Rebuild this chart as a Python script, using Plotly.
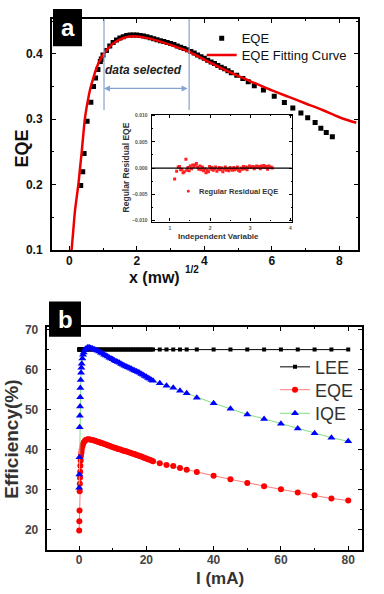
import plotly.graph_objects as go

# ---------------- Panel (a) data ----------------
eqe_x = [0.34, 0.40, 0.44, 0.53, 0.64, 0.72, 0.78, 0.85, 0.92,
         0.95, 1.0, 1.1, 1.2, 1.3, 1.4, 1.5, 1.6, 1.7, 1.8, 1.9, 2.0, 2.1, 2.2, 2.3, 2.4,
         2.5, 2.6, 2.7, 2.8, 2.9, 3.0, 3.1, 3.2, 3.3, 3.4, 3.5, 3.6, 3.7, 3.8, 3.9, 4.0,
         4.1, 4.2, 4.3, 4.4, 4.5, 4.6, 4.7, 4.8,
         4.96, 5.14, 5.30, 5.48, 5.75, 6.07, 6.37, 6.62, 6.86, 7.06, 7.28, 7.45, 7.61, 7.79]
eqe_y = [0.1985, 0.2195, 0.2476, 0.297, 0.326, 0.350, 0.363, 0.376, 0.388,
         0.392, 0.398, 0.405, 0.412, 0.417, 0.421, 0.424, 0.426, 0.428, 0.4285, 0.4285, 0.4285,
         0.428, 0.427, 0.426, 0.4245, 0.423, 0.4215, 0.420, 0.4185, 0.417, 0.4155, 0.414,
         0.412, 0.410, 0.408, 0.406, 0.4035, 0.401, 0.398, 0.3955, 0.393, 0.390, 0.3875,
         0.385, 0.382, 0.3795, 0.377, 0.374, 0.371,
         0.367, 0.362, 0.357, 0.351, 0.3445, 0.335, 0.3256, 0.317, 0.3095, 0.302, 0.295,
         0.286, 0.2795, 0.273]

fit_x = [0.07, 0.12, 0.17, 0.22, 0.27, 0.32, 0.37, 0.42, 0.47, 0.55, 0.63, 0.72, 0.8, 0.9,
         1.0, 1.2, 1.4, 1.6, 1.8, 2.0, 2.2, 2.5, 3.0, 3.5, 4.0, 4.5, 5.0, 5.5, 6.0, 6.5,
         7.0, 7.5, 8.0, 8.5]
fit_y = [0.100, 0.130, 0.160, 0.180, 0.200, 0.225, 0.250, 0.278, 0.303, 0.328, 0.348,
         0.364, 0.377, 0.389, 0.398, 0.411, 0.419, 0.424, 0.4265, 0.4265, 0.425, 0.4215,
         0.4135, 0.404, 0.391, 0.378, 0.366, 0.355, 0.344, 0.334, 0.324, 0.314, 0.303, 0.2945]

res_x = [1.12, 1.17, 1.21, 1.24, 1.27, 1.30, 1.33, 1.36, 1.40, 1.42, 1.45, 1.48, 1.51, 1.54,
         1.57, 1.60, 1.63, 1.66, 1.69, 1.72, 1.75, 1.78, 1.81, 1.84, 1.87, 1.90, 1.93, 1.96,
         1.99, 2.02, 2.05, 2.08, 2.11, 2.14, 2.17, 2.20, 2.23, 2.26, 2.29, 2.32, 2.35, 2.38,
         2.41, 2.44, 2.47, 2.50, 2.53, 2.56, 2.59, 2.62, 2.65, 2.68, 2.71, 2.74, 2.77, 2.80,
         2.83, 2.86, 2.89, 2.92, 2.95, 2.98, 3.01, 3.04, 3.07, 3.10, 3.13, 3.16, 3.19, 3.22,
         3.25, 3.28, 3.31, 3.34, 3.37, 3.40, 3.43, 3.46, 3.49, 3.52, 3.55]
res_y = [-0.0021, -0.0006, 0.0002, 0.0003, -0.0003, -0.0002, -0.0009, -0.0007, 0.0017,
         -0.0004, 0.0001, -0.0005, 0.0004, -0.0001, 0.0006, 0.0003, 0.0006, 0.0009, 0.0002,
         -0.0002, 0.0004, -0.0003, 0.0002, -0.0005, -0.0001, -0.0009, -0.0004, -0.0007,
         0.0003, -0.0002, 0.0001, -0.0004, -0.0001, 0.0002, -0.0006, -0.0002, 0.0001,
         -0.0003, 0.0000, -0.0007, -0.0002, 0.0002, -0.0004, -0.0001, -0.0005, 0.0001,
         -0.0002, -0.0004, 0.0001, -0.0003, -0.0001, 0.0002, -0.0004, -0.0006, 0.0000,
         -0.0002, 0.0003, -0.0001, 0.0002, -0.0003, 0.0001, 0.0004, 0.0002, 0.0001, 0.0003,
         -0.0001, 0.0002, 0.0004, 0.0001, 0.0003, -0.0001, 0.0004, 0.0002, 0.0005, 0.0001,
         0.0003, -0.0002, 0.0004, 0.0001, 0.0002, 0.0000]

# ---------------- Panel (b) data ----------------
current = [0.05, 0.1, 0.15, 0.2, 0.25, 0.3, 0.35, 0.4, 0.5, 0.6, 0.7, 0.8, 1.0, 1.2, 1.4,
           1.7, 2.0, 2.5, 3.0, 3.5,
           4.0, 4.5, 5.0, 5.5, 6.0, 6.5, 7.0, 7.5, 8.0, 8.5, 9.0, 9.5, 10.0, 10.5, 11.0,
           11.5, 12.0, 12.5, 13.0, 13.5, 14.0, 14.5, 15.0, 15.5, 16.0, 16.5, 17.0, 17.5,
           18.0, 18.5, 19.0, 19.5, 20.0, 20.5, 21.0, 21.5, 22.0,
           24, 26, 28, 30, 32, 35, 40, 45, 50, 55, 60, 65, 70, 75, 80]
lee = [65, 65, 65, 65, 65, 65, 65, 65, 65, 65, 65, 65, 65, 65, 65, 65, 65, 65, 65, 65,
       65, 65, 65, 65, 65, 65, 65, 65, 65, 65, 65, 65, 65, 65, 65, 65, 65, 65, 65, 65,
       65, 65, 65, 65, 65, 65, 65, 65, 65, 65, 65, 65, 65, 65, 65, 65, 65,
       65, 65, 65, 65, 65, 65, 65, 65, 65, 65, 65, 65, 65, 65, 65]
eqe_b = [19.8, 22.1, 24.8, 29.6, 31.5, 33.0, 34.5, 36.0, 37.3, 38.5, 39.3, 40.0, 40.8, 41.4,
         41.8, 42.2, 42.4, 42.6, 42.6, 42.5,
         42.4, 42.3, 42.2, 42.0, 41.9, 41.7, 41.6, 41.4, 41.3, 41.1, 41.0, 40.8, 40.7, 40.5,
         40.4, 40.2, 40.1, 40.0, 39.8, 39.7, 39.6, 39.4, 39.3, 39.2, 39.0, 38.9, 38.7, 38.6,
         38.4, 38.3, 38.1, 37.9, 37.8, 37.6, 37.5, 37.3, 37.1,
         36.6, 36.2, 35.9, 35.4, 35.0, 34.4, 33.5, 32.6, 31.7, 30.9, 30.1, 29.3, 28.6, 27.8, 27.3]
iqe_b = [30.5, 33.8, 38.1, 45.6, 48.5, 50.8, 53.1, 55.4, 57.4, 59.2, 60.5, 61.5, 62.8, 63.7,
         64.3, 64.9, 65.2, 65.5, 65.6, 65.4,
         65.3, 65.1, 64.9, 64.7, 64.5, 64.2, 64.0, 63.7, 63.5, 63.3, 63.0, 62.8, 62.6, 62.3,
         62.1, 61.9, 61.7, 61.4, 61.2, 61.0, 60.8, 60.6, 60.4, 60.2, 60.0, 59.8, 59.6, 59.4,
         59.2, 58.9, 58.7, 58.4, 58.2, 57.9, 57.7, 57.4, 57.2,
         56.6, 56.0, 55.5, 54.7, 54.1, 53.0, 51.6, 50.2, 48.8, 47.7, 46.5, 45.3, 44.1, 43.0, 42.1]

W, H = 384, 594
FONT = "Arial, Liberation Sans, sans-serif"


def px(x):
    return x / W


def py(y):
    return 1 - y / H


fig = go.Figure()

# panel a traces
fig.add_trace(go.Scatter(x=eqe_x, y=eqe_y, mode="markers", name="EQE",
                         marker=dict(symbol="square", size=5, color="black"),
                         xaxis="x", yaxis="y", legend="legend"))
fig.add_trace(go.Scatter(x=fit_x, y=fit_y, mode="lines", name="EQE Fitting Curve",
                         line=dict(color="#ee0000", width=2.5, shape="spline"),
                         xaxis="x", yaxis="y", legend="legend2"))
# inset
fig.add_trace(go.Scatter(x=res_x, y=res_y, mode="markers", name="Regular Residual EQE",
                         marker=dict(symbol="square", size=3, color="#ff2020"),
                         xaxis="x3", yaxis="y3", showlegend=False))

# panel b traces
fig.add_trace(go.Scatter(x=current, y=lee, mode="lines+markers", name="LEE",
                         line=dict(color="black", width=1),
                         marker=dict(symbol="square", size=4, color="black"),
                         xaxis="x2", yaxis="y2", legend="legend3"))
fig.add_trace(go.Scatter(x=current, y=eqe_b, mode="lines+markers", name="EQE",
                         line=dict(color="#ff7a7a", width=1),
                         marker=dict(symbol="circle", size=6, color="#ff0000"),
                         xaxis="x2", yaxis="y2", legend="legend4"))
fig.add_trace(go.Scatter(x=current, y=iqe_b, mode="lines+markers", name="IQE",
                         line=dict(color="#7ee07e", width=1),
                         marker=dict(symbol="triangle-up", size=7, color="#0000ff"),
                         xaxis="x2", yaxis="y2", legend="legend5"))


def ax(domain, rng, dtick, minor, fsize, color, lw=2, ticklen=4, standoff=None, anchor=None,
       tickformat=None):
    d = dict(domain=domain, range=rng, dtick=dtick, tick0=0, ticks="inside", ticklen=ticklen,
             tickwidth=1.2, tickcolor="black", showline=True, linecolor="black", linewidth=lw,
             mirror="allticks", showgrid=False, zeroline=False,
             tickfont=dict(family=FONT, size=fsize, color=color, weight="bold"),
             minor=dict(dtick=minor, ticks="inside", ticklen=max(1, ticklen // 2),
                        tickcolor="black", showgrid=False),
             anchor=anchor)
    if standoff is not None:
        d["ticklabelstandoff"] = standoff
    if tickformat:
        d["tickformat"] = tickformat
    return d


def leg(x, y, size, color):
    return dict(x=px(x), y=py(y), xanchor="left", yanchor="middle",
                bgcolor="rgba(0,0,0,0)", font=dict(family=FONT, size=size, color=color),
                tracegroupgap=0, itemwidth=30)


layout = dict(
    width=W, height=H, margin=dict(l=0, r=0, t=0, b=0),
    paper_bgcolor="white", plot_bgcolor="white",
    xaxis=ax([px(52), px(358)], [-0.51, 8.55], 2, 1, 12, "#111", anchor="y", standoff=-1),
    yaxis=ax([py(250.7), py(15)], [0.1, 0.4535], 0.1, 0.05, 12, "#111", anchor="x", standoff=5,
             tickformat=".1f"),
    xaxis2=ax([px(46.7), px(361.7)], [-9.6, 84], 20, 10, 12, "#444", anchor="y2", standoff=-3),
    yaxis2=ax([py(556.7), py(329.3)], [14.85, 70.6], 10, 5, 12, "#444", anchor="x2", standoff=4),
    xaxis3=ax([px(151.7), px(291.7)], [0.55, 4.03], 1, 0.5, 5, "#555", lw=1.2, ticklen=3,
              anchor="y3", standoff=1),
    yaxis3=ax([py(221.7), py(112.7)], [-0.0102, 0.0102], 0.005, 0.0025, 5, "#555", lw=1.2,
              ticklen=3, anchor="x3", standoff=2, tickformat=".3f"),
    legend=leg(201.7, 35, 13, "#111"),
    legend2=leg(201.7, 52, 13, "#111"),
    legend3=leg(275, 370, 18, "#333"),
    legend4=leg(275, 393.3, 18, "#333"),
    legend5=leg(275, 417.3, 18, "#333"),
)
fig.update_layout(**layout)

shapes = [
    # blue selection lines
    dict(type="line", xref="x", yref="y", x0=1.03, x1=1.03, y0=0.314, y1=0.4535,
         line=dict(color="#86a2d2", width=1.2)),
    dict(type="line", xref="x", yref="y", x0=3.55, x1=3.55, y0=0.314, y1=0.4535,
         line=dict(color="#86a2d2", width=1.2)),
    # inset zero line
    dict(type="line", xref="x3 domain", yref="y3", x0=0, x1=1, y0=0, y1=0,
         line=dict(color="black", width=1.2)),
    # inset legend dot
    dict(type="circle", xref="paper", yref="paper", x0=px(186.8), x1=px(189.8),
         y0=py(192.2), y1=py(189.2), fillcolor="#ff2020", line=dict(width=0)),
    # panel label boxes
    dict(type="rect", xref="paper", yref="paper", x0=px(53), x1=px(82), y0=py(43), y1=py(5),
         fillcolor="black", line=dict(width=0)),
    dict(type="rect", xref="paper", yref="paper", x0=px(49), x1=px(81), y0=py(339), y1=py(303),
         fillcolor="black", line=dict(width=0)),
]
fig.update_layout(shapes=shapes)


def note(x, y, text, size, color, angle=0, xanchor="center"):
    return dict(x=px(x), y=py(y), xref="paper", yref="paper", text=text, textangle=angle,
                showarrow=False, xanchor=xanchor, yanchor="middle",
                font=dict(family=FONT, size=size, color=color))


ann = [
    dict(x=1.03, y=0.347, ax=3.55, ay=0.347, xref="x", yref="y", axref="x", ayref="y",
         text="", showarrow=True, arrowhead=2, arrowside="end+start", arrowsize=1,
         arrowwidth=1.2, arrowcolor="#86a2d2"),
    dict(x=2.2, y=0.3755, xref="x", yref="y", text="<b><i>data selected</i></b>",
         showarrow=False, xanchor="center", yanchor="middle",
         font=dict(family=FONT, size=12, color="#222")),
    note(21.7, 147.5, "<b>EQE</b>", 18, "#111", angle=-90),
    note(154, 279, "<b>x (mw)</b>", 16, "#111"),
    note(192, 271, "<b>1/2</b>", 10, "#111"),
    note(126, 166.5, "<b>Regular Residual EQE</b>", 8.5, "#333", angle=-90),
    note(218, 237.3, "<b>Independent Variable</b>", 8, "#333"),
    note(196.5, 190.7, "<b>Regular Residual EQE</b>", 7.5, "#333", xanchor="left"),
    note(12, 444, "<b>Efficiency(%)</b>", 19, "#333", angle=-90),
    note(220, 585, "<b>I (mA)</b>", 17, "#333"),
    note(67.5, 24, "<b>a</b>", 24, "white"),
    note(65, 321, "<b>b</b>", 24, "white"),
]
fig.update_layout(annotations=ann)

fig.write_html("out.html")
